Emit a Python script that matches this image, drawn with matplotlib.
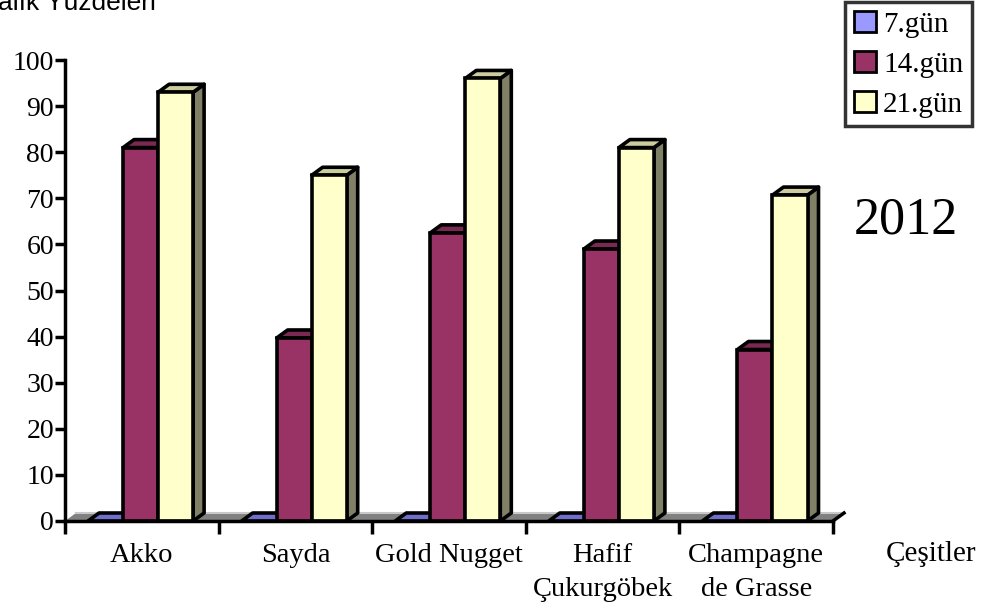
import matplotlib
matplotlib.use("Agg")
import matplotlib.pyplot as plt
from matplotlib.patches import Polygon, Patch
import numpy as np

categories = ["Akko", "Sayda", "Gold Nugget", "Hafif\nÇukurgöbek", "Champagne\nde Grasse"]
series_names = ["7.gün", "14.gün", "21.gün"]
gun7 = [0, 0, 0, 0, 0]
gun14 = [81, 39.7, 62.5, 59, 37.2]
gun21 = [93, 75, 96, 81, 70.7]
y_ticks = list(range(0, 101, 10))

front_colors = ["#9999FF", "#993366", "#FFFFCC"]
top_colors = ["#6F6FCB", "#7A2952", "#CCCC9E"]
side_colors = ["#5C5CA8", "#66223F", "#808066"]

serif = ["Liberation Serif", "DejaVu Serif"]
plt.rcParams["font.family"] = serif

fig = plt.figure(figsize=(9.92, 6.08), dpi=100)
ax = fig.add_axes([65 / 992, 87 / 608, 768 / 992, 461 / 608])
ax.set_xlim(0, 5)
ax.set_ylim(0, 100)

# depth of the pseudo-3D extrusion, in pixels, converted to data units
fig.canvas.draw()
p0 = ax.transData.transform((0, 0))
dxd, dyd = ax.transData.inverted().transform(p0 + np.array([11.0, 8.0]))

# floor
floor = Polygon([(0, 0), (5, 0), (5 + dxd, dyd), (dxd, dyd)], closed=True,
                facecolor="#808080", edgecolor="none", zorder=1, clip_on=False)
ax.add_patch(floor)
ax.plot([dxd, 5 + dxd], [dyd, dyd], color="#C8C8C8", lw=1.5, zorder=1.1, clip_on=False)
ax.plot([5, 5 + dxd], [0, dyd], color="black", lw=2.5, zorder=1.2, clip_on=False)

bar_w = 0.228
offsets = [0.15, 0.378, 0.606]
series = [gun7, gun14, gun21]
edge_lw = 2.6

z = 2
for i in range(len(categories)):
    for s, vals in enumerate(series):
        x0 = i + offsets[s]
        v = vals[i]
        x1 = x0 + bar_w
        side = Polygon([(x1, 0), (x1 + dxd, dyd), (x1 + dxd, v + dyd), (x1, v)],
                       closed=True, facecolor=side_colors[s], edgecolor="black",
                       lw=edge_lw, joinstyle="round", zorder=z, clip_on=False)
        top = Polygon([(x0, v), (x1, v), (x1 + dxd, v + dyd), (x0 + dxd, v + dyd)],
                      closed=True, facecolor=top_colors[s], edgecolor="black",
                      lw=edge_lw, joinstyle="round", zorder=z, clip_on=False)
        ax.add_patch(side)
        ax.add_patch(top)
        if v > 0:
            ax.bar(x0, v, width=bar_w, align="edge", color=front_colors[s],
                   edgecolor="black", linewidth=edge_lw, zorder=z + 0.5, clip_on=False)
        z += 1

# axes styling
for sp in ["top", "right"]:
    ax.spines[sp].set_visible(False)
ax.spines["left"].set_linewidth(2.5)
ax.spines["bottom"].set_linewidth(2.5)
ax.spines["bottom"].set_zorder(50)
ax.spines["left"].set_zorder(50)

ax.set_yticks(y_ticks)
ax.set_yticklabels([str(t) for t in y_ticks], fontsize=20)
ax.tick_params(axis="y", direction="out", length=7, width=2.5, pad=1)

ax.set_xticks(np.arange(0, 6))
ax.set_xticklabels([])
ax.tick_params(axis="x", which="major", direction="out", length=9, width=2.5)
ax.set_xticks(np.arange(5) + 0.5, minor=True)
ax.set_xticklabels(categories, minor=True, fontsize=20.5, linespacing=1.45, va="top")
ax.tick_params(axis="x", which="minor", length=0, pad=16)

fig.text(931 / 992, 1 - 554 / 608, "Çeşitler", fontsize=21, ha="center", va="center")
fig.text(906 / 992, 1 - 221 / 608, "2012", fontsize=37.5, ha="center", va="center")
fig.text(-2 / 992, 1 - 10 / 608, "alık Yüzdeleri", fontsize=19,
         family=["Liberation Sans", "DejaVu Sans"], ha="left", va="baseline")

handles = [Patch(facecolor=c, edgecolor="black", linewidth=2) for c in front_colors]
leg = fig.legend(handles, series_names, loc="upper right",
                 bbox_to_anchor=(972 / 992, 1 - 2 / 608), fontsize=21,
                 frameon=True, fancybox=False, handlelength=0.75, handleheight=0.75,
                 handletextpad=0.25, labelspacing=0.45, borderpad=0.3,
                 borderaxespad=0)
leg.get_frame().set_edgecolor("black")
leg.get_frame().set_linewidth(2.5)

fig.savefig("out.png", dpi=100)
